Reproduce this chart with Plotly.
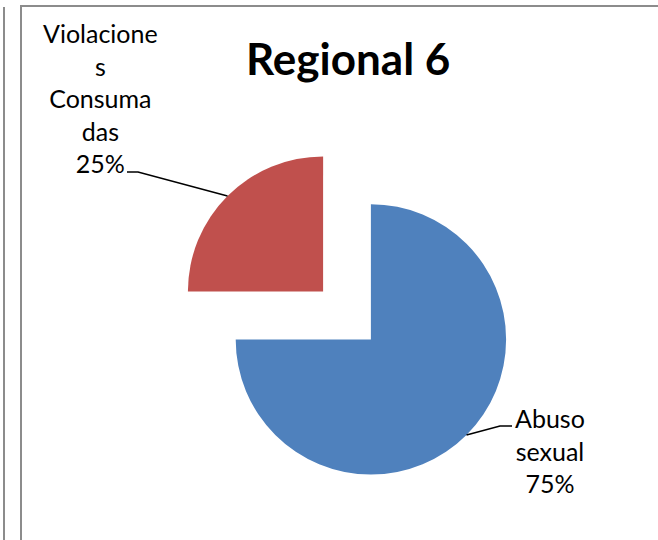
import math

import plotly.graph_objects as go

# Data
labels = ["Abuso sexual", "Violaciones Consumadas"]
values = [75, 25]
colors = ["#4F81BD", "#C0504D"]
# how the chart wrapped each label inside its box
label_lines = [["Abuso", "sexual"], ["Violacione", "s", "Consuma", "das"]]
title_text = "Regional 6"

W, H = 658, 540
pull = [0.25, 0.25]
dom_x = [178.0 / W, 516.0 / W]
dom_y = [1 - 484.5 / H, 1 - 146.5 / H]

FONT = "Lato"

fig = go.Figure(
    go.Pie(
        labels=labels,
        values=values,
        marker=dict(colors=colors, line=dict(width=0)),
        pull=pull,
        sort=False,
        direction="clockwise",
        rotation=0,
        textinfo="none",
        showlegend=False,
        domain=dict(x=dom_x, y=dom_y),
    )
)

# pie geometry (same rules plotly uses) to hook the leader lines on the arcs
cx = W * (dom_x[0] + dom_x[1]) / 2
cy = H * (1 - (dom_y[0] + dom_y[1]) / 2)
r = min(W * (dom_x[1] - dom_x[0]), H * (dom_y[1] - dom_y[0])) / (2 + 2 * max(pull))
total = sum(values)


def px(x, y):
    return x / W, 1 - y / H


# label box centre (pixels) and elbow/end of leader line
label_pos = [(550, 450), (100, 98)]
elbows = [((500, 426), (512, 426)), ((138, 172), (127, 172))]

cum = 0
for i, v in enumerate(values):
    mid = (cum + v / 2) / total * 2 * math.pi
    cum += v
    dx, dy = math.sin(mid), -math.cos(mid)
    sx = cx + pull[i] * r * dx + r * dx
    sy = cy + pull[i] * r * dy + r * dy
    (ex, ey), (fx, fy) = elbows[i]
    path = "M {} {} L {} {} L {} {}".format(*px(sx, sy), *px(ex, ey), *px(fx, fy))
    fig.add_shape(type="path", path=path, xref="paper", yref="paper", line=dict(color="black", width=1.5))

    pct = round(v / total * 100)
    txt = "<br>".join(label_lines[i] + [f"{pct}%"])
    lx, ly = px(*label_pos[i])
    fig.add_annotation(
        x=lx, y=ly, xref="paper", yref="paper", text=txt, showarrow=False,
        xanchor="center", yanchor="middle", align="center",
        font=dict(family=FONT, size=25, color="black"),
    )

tx, ty = px(348, 58)
fig.add_annotation(
    x=tx, y=ty, xref="paper", yref="paper", text=f"<b>{title_text}</b>", showarrow=False,
    xanchor="center", yanchor="middle", font=dict(family=FONT, size=44, color="black"),
)

# outer frame lines
border = dict(color="#8c8c8c", width=2)
fig.add_shape(type="line", xref="paper", yref="paper", x0=4 / W, x1=4 / W, y0=1 - 7 / H, y1=0, line=border)
fig.add_shape(type="path", xref="paper", yref="paper",
              path="M {} {} L {} {} L {} {}".format(*px(21, H), *px(21, 6), *px(W, 6)), line=border)

fig.update_layout(
    width=W,
    height=H,
    margin=dict(l=0, r=0, t=0, b=0),
    paper_bgcolor="white",
    plot_bgcolor="white",
)

# drop the default page margin so the figure sits at the window's corner
fig.write_html(
    "out.html",
    config={"displayModeBar": False},
    post_script="document.body.style.margin='0px';",
)
